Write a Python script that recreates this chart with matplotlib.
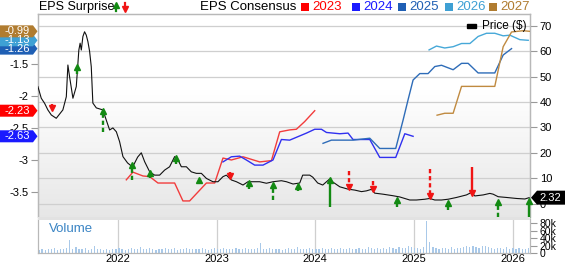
import numpy as np
import matplotlib.pyplot as plt
from matplotlib.patches import Polygon, Rectangle
from matplotlib.lines import Line2D
from matplotlib.transforms import IdentityTransform

plt.rcParams['font.family'] = ['Liberation Sans', 'DejaVu Sans']

# price history (decimal year, $)
price_year = [2021.189, 2021.223, 2021.257, 2021.290, 2021.325, 2021.375, 2021.442, 2021.477,
              2021.493, 2021.510, 2021.544, 2021.578, 2021.604, 2021.617, 2021.629, 2021.645,
              2021.662, 2021.679, 2021.696, 2021.713, 2021.730, 2021.746, 2021.781, 2021.814,
              2021.848, 2021.882, 2021.916, 2021.949, 2021.984, 2022.017, 2022.051, 2022.098,
              2022.149, 2022.200, 2022.237, 2022.271, 2022.322, 2022.372, 2022.423, 2022.474,
              2022.524, 2022.575, 2022.609, 2022.643, 2022.694, 2022.744, 2022.795, 2022.846,
              2022.897, 2022.963, 2023.014, 2023.065, 2023.099, 2023.150, 2023.201, 2023.268,
              2023.318, 2023.369, 2023.437, 2023.505, 2023.572, 2023.657, 2023.708, 2023.775,
              2023.843, 2023.873, 2023.944, 2023.975, 2024.025, 2024.076, 2024.147, 2024.178,
              2024.249, 2024.330, 2024.401, 2024.469, 2024.519, 2024.570, 2024.603, 2024.685,
              2024.786, 2024.857, 2024.958, 2025.026, 2025.111, 2025.161, 2025.212, 2025.280,
              2025.347, 2025.432, 2025.533, 2025.584, 2025.618, 2025.702, 2025.770, 2025.803,
              2025.854, 2025.939, 2026.041, 2026.125, 2026.168]
price = [46.1, 41.5, 39.5, 36.9, 34.9, 33.6, 36.9, 42.1,
         54.6, 50.0, 41.5, 46.1, 60.5, 63.2, 60.5, 65.8,
         67.7, 66.4, 63.8, 60.0, 53.9, 39.6, 37.7, 37.3,
         36.9, 32.9, 29.0, 29.8, 28.3, 24.4, 18.5, 16.0,
         14.4, 18.3, 20.0, 16.5, 12.5, 11.2, 11.2, 13.2,
         14.5, 18.5, 17.2, 14.5, 14.5, 12.5, 11.9, 11.9,
         9.9, 8.6, 8.6, 10.6, 11.2, 9.3, 8.6, 7.3,
         8.6, 8.6, 8.6, 8.0, 8.6, 9.0, 8.6, 7.7,
         8.1, 11.2, 11.2, 10.4, 8.1, 7.3, 9.7, 8.5,
         6.6, 5.7, 5.3, 4.7, 5.0, 5.6, 4.1, 3.7,
         3.1, 2.6, 1.4, 1.4, 1.7, 2.0, 1.4, 1.4,
         1.7, 2.4, 3.4, 4.4, 3.0, 3.4, 4.0, 3.7,
         2.7, 2.4, 2.0, 1.8, 2.32]
last_price = 2.32

# EPS consensus by fiscal year (decimal year, EPS)
fy2023_x = [2022.085, 2022.152, 2022.254, 2022.322, 2022.406, 2022.575, 2022.659, 2022.727,
            2022.897, 2022.981, 2023.065, 2023.150, 2023.268, 2023.437, 2023.556, 2023.640,
            2023.741, 2023.809, 2023.893, 2023.995]
fy2023_y = [-3.31, -3.19, -3.25, -3.26, -3.36, -3.36, -3.64, -3.64,
            -3.36, -3.36, -2.97, -3.00, -2.95, -3.03, -3.01, -2.56,
            -2.53, -2.52, -2.40, -2.23]
fy2024_x = [2023.065, 2023.150, 2023.234, 2023.302, 2023.386, 2023.471, 2023.572, 2023.657,
            2023.741, 2023.911, 2023.995, 2024.063, 2024.114, 2024.181, 2024.249, 2024.333,
            2024.383, 2024.553, 2024.654, 2024.816, 2024.908, 2024.992]
fy2024_y = [-3.03, -2.95, -2.94, -3.00, -3.08, -3.08, -3.00, -2.68,
            -2.69, -2.58, -2.52, -2.52, -2.57, -2.58, -2.59, -2.58,
            -2.68, -2.68, -2.96, -2.96, -2.59, -2.63]
fy2025_x = [2024.079, 2024.164, 2024.282, 2024.383, 2024.553, 2024.654, 2024.816, 2024.890,
            2024.941, 2024.992, 2025.060, 2025.144, 2025.212, 2025.280, 2025.398, 2025.483,
            2025.550, 2025.651, 2025.820, 2025.905, 2025.990]
fy2025_y = [-2.74, -2.69, -2.69, -2.69, -2.66, -2.82, -2.82, -2.38,
            -2.06, -1.75, -1.65, -1.65, -1.54, -1.52, -1.59, -1.49,
            -1.49, -1.64, -1.64, -1.36, -1.26]
fy2026_x = [2025.154, 2025.229, 2025.313, 2025.398, 2025.483, 2025.568, 2025.651, 2025.736,
            2025.820, 2025.905, 2025.973, 2026.074, 2026.159]
fy2026_y = [-1.28, -1.22, -1.25, -1.23, -1.18, -1.18, -1.07, -1.02,
            -1.02, -1.06, -1.05, -1.12, -1.13]
fy2027_x = [2025.235, 2025.313, 2025.398, 2025.483, 2025.820, 2025.905, 2025.990, 2026.108,
            2026.176]
fy2027_y = [-2.30, -2.27, -2.27, -1.85, -1.85, -1.23, -1.00, -0.98, -0.99]

# EPS surprise arrows: date, tip price, tail price, beat?, dashed?
surp_x = [2021.335, 2021.586, 2021.848, 2022.144, 2022.329, 2022.585, 2022.821, 2023.133,
          2023.329, 2023.572, 2023.826, 2024.147, 2024.340, 2024.587, 2024.830, 2025.161,
          2025.347, 2025.592, 2025.851, 2026.168]
surp_tip = [36.2, 55.0, 37.7, 16.4, 13.2, 19.1, 10.4, 9.5,
            9.3, 8.5, 8.1, 10.4, 5.3, 4.5, 2.7, 1.7,
            1.4, 2.8, 2.0, 2.2]
surp_tail = [39.4, 51.0, 28.2, 9.3, 9.9, 15.6, 7.7, 12.6,
             5.7, 1.4, 4.9, -1.3, 12.9, 8.9, -1.2, 13.5,
             -2.6, 14.5, -5.3, -9.8]
surp_beat = [False, True, True, True, True, True, True, False,
             True, True, True, True, False, False, True, False,
             True, False, True, True]
surp_dashed = [False, False, True, True, False, False, False, True,
               False, True, False, False, True, True, False, True,
               False, False, True, False]

# volume (thousands of shares), evenly spaced over the period
volume = [9, 12, 8, 11, 10, 13, 9, 12, 10, 14,
          35, 12, 15, 10, 11, 13, 9, 12, 20, 11,
          10, 8, 11, 9, 12, 10, 13, 11, 9, 12,
          14, 10, 12, 15, 11, 10, 13, 12, 9, 11,
          12, 14, 10, 11, 13, 9, 12, 10, 14, 11,
          10, 12, 11, 13, 10, 9, 12, 14, 11, 10,
          13, 11, 12, 10, 14, 12, 11, 13, 10, 12,
          11, 14, 28, 12, 10, 13, 11, 12, 10, 9,
          11, 13, 10, 12, 15, 11, 10, 12, 14, 11,
          12, 10, 13, 11, 12, 14, 10, 11, 13, 12,
          11, 13, 12, 10, 14, 12, 11, 15, 13, 12,
          14, 11, 13, 12, 16, 13, 12, 15, 14, 13,
          20, 15, 13, 14, 12, 16, 85, 30, 15, 13,
          12, 14, 13, 11, 15, 12, 13, 14, 16, 18,
          17, 19, 15, 14, 18, 20, 16, 13, 12, 14,
          13, 12, 15, 11, 13, 12, 14, 10, 12, 13]
vol_start, vol_end = 2021.20, 2026.16

years = [2022, 2023, 2024, 2025, 2026]
fy_labels = ['2023', '2024', '2025', '2026', '2027']
fy_colors = ['#ff0000', '#1a1aff', '#1f5fb4', '#3ea0d4', '#b07c30']
line_colors = ['#f23c3c', '#3030f0', '#2e6cb8', '#46a8d8', '#c08a40']
current_eps = [-2.23, -2.63, -1.26, -1.13, -0.99]

green = '#138a13'
red = '#f01414'
grid_c = '#cfcfcf'
spine_c = '#b8b8b8'

W, H = 565, 264
fig = plt.figure(figsize=(W / 100, H / 100), dpi=100)
xlim = (2021.19, 2026.177)

ax = fig.add_axes([38 / W, 1 - 217 / H, 492 / W, 203 / H])
ax.set_xlim(*xlim)
# background gradient, grey at the top fading to white
grad = np.clip(np.linspace(0.0, 1.6, 100), 0, 1).reshape(-1, 1)
grad = 0.905 + 0.095 * grad
ax.imshow(np.dstack([grad, grad, grad]), extent=[xlim[0], xlim[1], -0.719, -3.891],
          aspect='auto', zorder=0, origin='upper')
ax.set_ylim(-3.891, -0.719)
ax.set_yticks([-3.5, -3, -2.5, -2, -1.5])
ax.set_yticklabels(['-3.5', '-3', '-2.5', '-2', '-1.5'])
ax.tick_params(axis='y', length=5, width=0.8, color='#999999', labelsize=8, pad=2)
ax.tick_params(axis='x', length=0, labelbottom=False)

axp = ax.twinx()
axp.set_xlim(*xlim)
axp.set_ylim(-5.3, 74.7)
axp.set_yticks(range(0, 80, 10))
axp.tick_params(axis='y', length=5, width=0.8, color='#999999', labelsize=8, pad=2)
axp.set_xticks(years)
axp.tick_params(axis='x', length=0, labelbottom=False)
axp.grid(True, color=grid_c, lw=0.9)
axp.set_axisbelow(True)
for a in (ax, axp):
    for s in a.spines.values():
        s.set_color(spine_c)
        s.set_linewidth(0.9)
    a.spines['bottom'].set_visible(False)

# consensus lines on EPS scale
for xs, ys, c in zip([fy2023_x, fy2024_x, fy2025_x, fy2026_x, fy2027_x],
                     [fy2023_y, fy2024_y, fy2025_y, fy2026_y, fy2027_y], line_colors):
    axp.plot(xs, ys, color=c, lw=1.0, transform=ax.transData, zorder=3)

axp.plot(price_year, price, color='#111111', lw=0.8, zorder=4)

# surprise arrows
head = 1.3
for x, tip, tail, beat, dashed in zip(surp_x, surp_tip, surp_tail, surp_beat, surp_dashed):
    c = green if beat else red
    sgn = 1 if tip > tail else -1
    ls = (0, (1.8, 1.2)) if dashed else '-'
    axp.plot([x, x], [tail, tip - sgn * head * 1.3], color=c, lw=1.7, ls=ls,
             zorder=5, clip_on=False, solid_capstyle='butt', dash_capstyle='butt')
    axp.plot([x], [tip - sgn * head], marker='^' if beat else 'v', ms=5, color=c,
             mec=c, zorder=6, clip_on=False, lw=0)

# Price ($) legend
fig.add_artist(Rectangle((467 / W, 1 - 28 / H), 9 / W, 4 / H, color='black',
                         transform=fig.transFigure))
fig.text(482 / W, 1 - 26 / H, 'Price ($)', fontsize=8.5, va='center', ha='left')

# volume panel
axv = fig.add_axes([38 / W, 1 - 253 / H, 492 / W, 34 / H])
axv.set_xlim(*xlim)
vx = np.linspace(vol_start, vol_end, len(volume))
axv.bar(vx, volume, width=0.012, color='#a9c9e9', zorder=2)
axv.set_ylim(0, 90.7)
axv.yaxis.tick_right()
axv.set_yticks([0, 20, 40, 60, 80])
axv.set_yticklabels(['0', '20k', '40k', '60k', '80k'])
axv.tick_params(axis='y', length=5, width=0.8, color='#999999', labelsize=7.5, pad=2)
axv.set_xticks(years)
axv.set_xticklabels([str(y) for y in years])
axv.tick_params(axis='x', length=0, labelsize=8, pad=0.5)
axv.grid(True, axis='x', color=grid_c, lw=0.9)
axv.set_axisbelow(True)
for s in axv.spines.values():
    s.set_color(spine_c)
    s.set_linewidth(0.9)
axv.spines['top'].set_visible(False)
axv.text(0.022, 0.72, 'Volume', transform=axv.transAxes, color='#3a84c4', fontsize=9.5,
         va='center')
fig.add_artist(Rectangle((38 / W, 1 - 219.5 / H), 492 / W, 2.5 / H, color='#e2e2e2',
                         transform=fig.transFigure, lw=0))

fig.canvas.draw()

# value tags on the left (latest EPS consensus)
for i in range(len(current_eps)):
    yv = ax.transData.transform((xlim[0], current_eps[i]))[1]
    pts = [(0, yv - 6), (33, yv - 6), (37.5, yv), (33, yv + 6), (0, yv + 6)]
    fig.add_artist(Polygon(pts, closed=True, color=fy_colors[i], lw=0,
                           transform=IdentityTransform()))
    fig.text(17 / W, yv / H, '%.2f' % current_eps[i], color='white', fontsize=8,
             ha='center', va='center')

# last price tag
yp = axp.transData.transform((xlim[1], last_price))[1]
pts = [(531, yp), (537, yp - 7), (565, yp - 7), (565, yp + 7), (537, yp + 7)]
fig.add_artist(Polygon(pts, closed=True, color='black', lw=0, transform=IdentityTransform()))
fig.text(550 / W, yp / H, '%.2f' % last_price, color='white', fontsize=8,
         ha='center', va='center')

# header legend
fig.text(39 / W, 1 - 7 / H, 'EPS Surprise', fontsize=9, va='center', ha='left')
fig.add_artist(Line2D([116 / W, 116 / W], [1 - 11 / H, 1 - 6 / H], color=green, lw=1.6))
fig.add_artist(Line2D([116 / W], [1 - 5 / H], marker='^', ms=4.5, color=green, lw=0))
fig.add_artist(Line2D([125 / W, 125 / W], [1 - 3 / H, 1 - 8 / H], color=red, lw=1.6))
fig.add_artist(Line2D([125 / W], [1 - 9 / H], marker='v', ms=4.5, color=red, lw=0))
fig.text(200 / W, 1 - 7 / H, 'EPS Consensus', fontsize=9.5, va='center', ha='left')
leg_x = [301, 352, 398, 445, 489]
for lx, lab, c in zip(leg_x, fy_labels, fy_colors):
    fig.add_artist(Rectangle((lx / W, 1 - 11 / H), 8 / W, 8 / H, color=c, lw=0,
                             transform=fig.transFigure))
    fig.text((lx + 11) / W, 1 - 7 / H, lab, color=c, fontsize=9.5, va='center', ha='left')

fig.savefig('out.png', dpi=100)
